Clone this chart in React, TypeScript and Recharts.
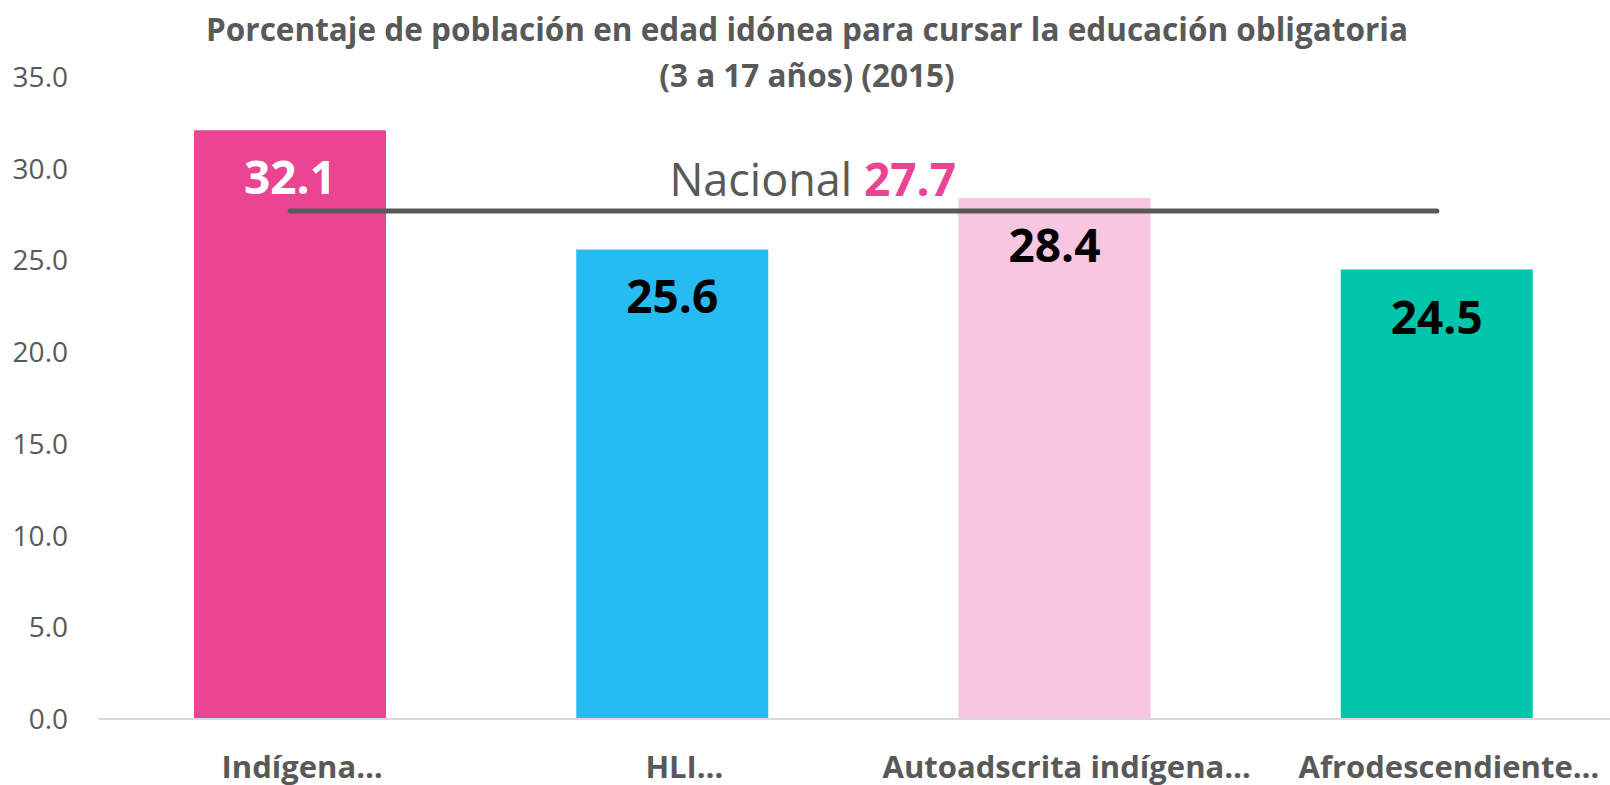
import React from "react";
import {
  ComposedChart,
  Bar,
  Line,
  Cell,
  XAxis,
  YAxis,
  LabelList,
} from "recharts";

// chart values
const categories = ["Indígena…", "HLI…", "Autoadscrita indígena…", "Afrodescendiente…"];
const porcentajes = [32.1, 25.6, 28.4, 24.5];
const nacional = [27.7, 27.7, 27.7, 27.7];
const yTicks = [0, 5, 10, 15, 20, 25, 30, 35];
const titleLines = [
  "Porcentaje de población en edad idónea para cursar la educación obligatoria",
  "(3 a 17 años) (2015)",
];

const BAR_COLORS = ["#EA4492", "#26BBF1", "#F7C6E0", "#00C5A9"];
const LABEL_COLORS = ["#FFFFFF", "#000000", "#000000", "#000000"];
const GRAY = "#595959";
const PINK = "#EA4492";
const FONT = "'Open Sans', sans-serif";

const data = categories.map((name, i) => ({
  name,
  value: porcentajes[i],
  nacional: nacional[i],
}));

const XTick = ({ x, y, payload }: any) => (
  <text
    x={x + 12}
    y={y + 39}
    textAnchor="middle"
    dominantBaseline="central"
    fill={GRAY}
    fontSize={31}
    fontWeight={700}
    fontFamily={FONT}
  >
    {payload.value}
  </text>
);

const ValueLabel = ({ x, y, width, value, index }: any) => (
  <text
    x={x + width / 2}
    y={y + 46}
    textAnchor="middle"
    dominantBaseline="central"
    fill={LABEL_COLORS[index]}
    fontSize={46}
    fontWeight={700}
    fontFamily={FONT}
  >
    {Number(value).toFixed(1)}
  </text>
);

// "Nacional 27.7" written once, above the second point of the line
const NacionalLabel = ({ x, y, value, index }: any) => {
  if (index !== 1) return null;
  return (
    <text x={x - 3} y={y - 33} dominantBaseline="central" fontFamily={FONT} fontSize={45}>
      <tspan fill={GRAY}>Nacional </tspan>
      <tspan fill={PINK} fontWeight={700} fontSize={46}>
        {Number(value).toFixed(1)}
      </tspan>
    </text>
  );
};

export default function App() {
  return (
    <div
      style={{
        position: "fixed",
        left: 0,
        top: 0,
        width: 1610,
        height: 785,
        overflow: "hidden",
        background: "#fff",
        fontFamily: FONT,
      }}
    >
      <div
        style={{
          position: "absolute",
          left: 0,
          top: 6,
          width: 1614,
          textAlign: "center",
          fontSize: 31.5,
          fontWeight: 700,
          lineHeight: "46px",
          color: GRAY,
        }}
      >
        {titleLines.map((t) => (
          <div key={t}>{t}</div>
        ))}
      </div>
      <ComposedChart
        width={1640}
        height={785}
        data={data}
        margin={{ top: 77, right: 12, left: 0, bottom: 0 }}
      >
        <XAxis
          dataKey="name"
          height={66}
          axisLine={{ stroke: "#D9D9D9", strokeWidth: 2 }}
          tickLine={false}
          tick={<XTick />}
          interval={0}
        />
        <YAxis
          width={99}
          domain={[0, 35]}
          ticks={yTicks}
          axisLine={false}
          tickLine={false}
          tickMargin={25}
          tickFormatter={(v: number) => v.toFixed(1)}
          tick={{ fill: GRAY, fontSize: 28, fontFamily: FONT }}
        />
        <Bar dataKey="value" barSize={192} isAnimationActive={false}>
          {data.map((d, i) => (
            <Cell key={d.name} fill={BAR_COLORS[i]} />
          ))}
          <LabelList dataKey="value" content={<ValueLabel />} />
        </Bar>
        <Line
          dataKey="nacional"
          stroke={GRAY}
          strokeWidth={5}
          strokeLinecap="round"
          dot={false}
          activeDot={false}
          isAnimationActive={false}
          label={<NacionalLabel />}
        />
      </ComposedChart>
    </div>
  );
}
